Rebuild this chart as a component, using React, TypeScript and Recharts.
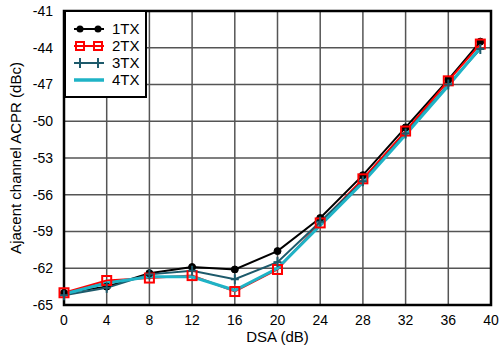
import React from "react";
import {
  CartesianGrid,
  Line,
  LineChart,
  ReferenceArea,
  XAxis,
  YAxis,
} from "recharts";

const dsa = [0, 4, 8, 12, 16, 20, 24, 28, 32, 36, 39];
const tx1 = [-64.0, -63.5, -62.4, -61.9, -62.1, -60.6, -57.9, -54.4, -50.5, -46.6, -43.5];
const tx2 = [-64.0, -63.0, -62.8, -62.6, -63.9, -62.1, -58.3, -54.7, -50.8, -46.7, -43.7];
const tx3 = [-64.2, -63.6, -62.5, -62.2, -62.9, -61.5, -58.2, -54.9, -51.0, -47.0, -44.1];
const tx4 = [-64.1, -63.2, -62.7, -62.7, -63.8, -62.0, -58.5, -55.0, -51.1, -47.1, -44.0];

const xTicks = [0, 4, 8, 12, 16, 20, 24, 28, 32, 36, 40];
const yTicks = [-65, -62, -59, -56, -53, -50, -47, -44, -41];

const data = dsa.map((d, i) => ({
  dsa: d,
  tx1: tx1[i],
  tx2: tx2[i],
  tx3: tx3[i],
  tx4: tx4[i],
}));

const FONT = "'Liberation Sans', Arial, sans-serif";
const TEAL = "#1d5a6b";
const CYAN = "#1fb3c6";

const CircleDot = (props: any) => {
  const { cx, cy } = props;
  if (cx == null || cy == null) return null;
  return <circle cx={cx} cy={cy} r={3.5} fill="#000" stroke="#000" />;
};

const SquareDot = (props: any) => {
  const { cx, cy } = props;
  if (cx == null || cy == null) return null;
  return (
    <rect x={cx - 4.5} y={cy - 4.5} width={9} height={9} fill="none" stroke="#ff0000" strokeWidth={2} />
  );
};

const PlusDot = (props: any) => {
  const { cx, cy } = props;
  if (cx == null || cy == null) return null;
  return (
    <g stroke={TEAL} strokeWidth={2}>
      <line x1={cx} y1={cy - 5} x2={cx} y2={cy + 5} />
      <line x1={cx - 4} y1={cy} x2={cx + 4} y2={cy} />
    </g>
  );
};

const legendItems = [
  { name: "1TX", color: "#000", width: 2, dot: "circle" },
  { name: "2TX", color: "#ff0000", width: 2, dot: "square" },
  { name: "3TX", color: TEAL, width: 2, dot: "plus" },
  { name: "4TX", color: CYAN, width: 3.5, dot: "none" },
];

function LegendBox() {
  return (
    <svg width={83} height={88} style={{ display: "block" }}>
      <rect x={1} y={1} width={81} height={86} fill="#fff" stroke="#000" strokeWidth={2} />
      {legendItems.map((it, i) => {
        const y = 19 + i * 17;
        return (
          <g key={it.name}>
            <line x1={10} y1={y} x2={40} y2={y} stroke={it.color} strokeWidth={it.width} />
            {it.dot === "circle" &&
              [16, 34].map((x) => <circle key={x} cx={x} cy={y} r={3.5} fill="#000" />)}
            {it.dot === "square" &&
              [16, 34].map((x) => (
                <rect key={x} x={x - 4} y={y - 4} width={8} height={8} fill="none" stroke="#ff0000" strokeWidth={2} />
              ))}
            {it.dot === "plus" &&
              [16, 34].map((x) => (
                <line key={x} x1={x} y1={y - 5} x2={x} y2={y + 5} stroke={TEAL} strokeWidth={2} />
              ))}
            <text x={48} y={y + 5} fontSize={15} fontFamily={FONT} fill="#000">
              {it.name}
            </text>
          </g>
        );
      })}
    </svg>
  );
}

export default function App() {
  return (
    <div style={{ position: "absolute", left: 0, top: 0, width: 502, height: 345, background: "#fff" }}>
      <LineChart
        width={502}
        height={345}
        data={data}
        margin={{ top: 11, right: 11, left: 0, bottom: 0 }}
      >
        <CartesianGrid stroke="#555" strokeWidth={1.5} horizontalValues={yTicks} verticalValues={xTicks} />
        <XAxis
          dataKey="dsa"
          type="number"
          domain={[0, 40]}
          ticks={xTicks}
          tickLine={false}
          axisLine={false}
          height={40}
          tick={{ fontSize: 14, fill: "#000", fontFamily: FONT }}
          tickMargin={4}
          label={{ value: "DSA (dB)", position: "insideBottom", offset: 3, fontSize: 15, fill: "#000", fontFamily: FONT }}
        />
        <YAxis
          type="number"
          domain={[-65, -41]}
          ticks={yTicks}
          tickLine={false}
          axisLine={false}
          width={64}
          tick={{ fontSize: 14, fill: "#000", fontFamily: FONT }}
          tickMargin={5}
          label={{
            value: "Ajacent channel ACPR (dBc)",
            angle: -90,
            position: "insideLeft",
            offset: 16,
            style: { textAnchor: "middle", fontSize: 15, fill: "#000", fontFamily: FONT },
          }}
        />
        <ReferenceArea x1={0} x2={40} y1={-65} y2={-41} fill="none" stroke="#000" strokeWidth={2.5} />
        <Line dataKey="tx1" name="1TX" stroke="#000" strokeWidth={2} dot={<CircleDot />} isAnimationActive={false} />
        <Line dataKey="tx2" name="2TX" stroke="#ff0000" strokeWidth={2} dot={<SquareDot />} isAnimationActive={false} />
        <Line dataKey="tx3" name="3TX" stroke={TEAL} strokeWidth={2} dot={<PlusDot />} isAnimationActive={false} />
        <Line dataKey="tx4" name="4TX" stroke={CYAN} strokeWidth={3} dot={false} isAnimationActive={false} />
      </LineChart>
      <div style={{ position: "absolute", left: 64, top: 10 }}>
        <LegendBox />
      </div>
    </div>
  );
}
